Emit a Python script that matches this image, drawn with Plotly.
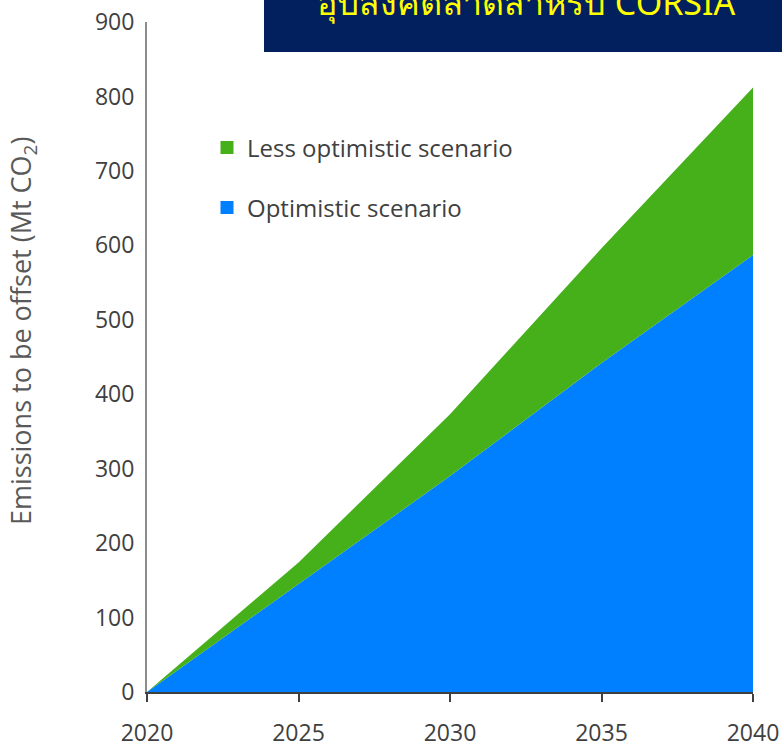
import plotly.graph_objects as go

years = [2020, 2025, 2030, 2035, 2040]
optimistic = [0, 145, 290, 442, 587]
less_optimistic = [0, 174, 373, 596, 812]

series_names = ["Less optimistic scenario", "Optimistic scenario"]
y_ticks = [0, 100, 200, 300, 400, 500, 600, 700, 800, 900]
x_ticks = [2020, 2025, 2030, 2035, 2040]
title_text = "อุปสงค์ตลาดสำหรับ CORSIA"
y_title = "Emissions to be offset (Mt CO<sub>2</sub>)"

GREEN = "#46B01B"
BLUE = "#0080FF"
FONT = "Open Sans, Lato, sans-serif"
W, H = 782, 747
# plot area in page pixels: x 147..753, y 22..692
PX0, PX1, PY0, PY1 = 147, 753, 22, 692
L, R, T, B = PX0, W - PX1, PY0, H - PY1
pw, ph = PX1 - PX0, PY1 - PY0


def px_x(x):
    return (x - PX0) / pw


def px_y(y):
    return (PY1 - y) / ph


fig = go.Figure()
fig.add_trace(go.Scatter(x=years, y=optimistic, mode="none", fill="tozeroy",
                         fillcolor=BLUE, showlegend=False, hoverinfo="skip"))
fig.add_trace(go.Scatter(x=years, y=less_optimistic, mode="none", fill="tonexty",
                         fillcolor=GREEN, showlegend=False, hoverinfo="skip"))
# legend entries
fig.add_trace(go.Scatter(x=[None], y=[None], mode="markers", name=series_names[0],
                         marker=dict(symbol="square", size=13, color=GREEN), legend="legend"))
fig.add_trace(go.Scatter(x=[None], y=[None], mode="markers", name=series_names[1],
                         marker=dict(symbol="square", size=13, color=BLUE), legend="legend2"))

leg_common = dict(font=dict(family=FONT, size=24, color="#404040"), bgcolor="rgba(0,0,0,0)",
                  xanchor="left", yanchor="middle", itemwidth=30)

fig.update_layout(
    template="none",
    width=W, height=H,
    margin=dict(l=L, r=R, t=T, b=B, autoexpand=False),
    plot_bgcolor="white", paper_bgcolor="white",
    font=dict(family=FONT, size=23, color="#404040"),
    legend=dict(x=px_x(207), y=px_y(148), **leg_common),
    legend2=dict(x=px_x(207), y=px_y(208), **leg_common),
    xaxis=dict(range=[2020, 2040], tickvals=x_ticks, ticks="outside", ticklen=8,
               tickcolor="#404040", tickwidth=2, showline=True, linecolor="#404040", linewidth=2,
               showgrid=False, zeroline=False, tickfont=dict(size=23), ticklabelstandoff=11,
               automargin=False, ticklabeloverflow="allow"),
    yaxis=dict(range=[0, 900], tickvals=y_ticks, ticks="", showline=True,
               linecolor="#8C8C8C", linewidth=2, showgrid=False, zeroline=False,
               ticklabelstandoff=6, tickfont=dict(size=23), automargin=False,
               ticklabeloverflow="allow"),
    shapes=[dict(type="rect", xref="paper", yref="paper",
                 x0=px_x(264), x1=px_x(800), y0=px_y(52), y1=px_y(-20),
                 fillcolor="#03205E", line=dict(width=0), layer="above")],
    annotations=[
        dict(text=title_text, xref="paper", yref="paper", x=px_x(526), y=px_y(2),
             xanchor="center", yanchor="middle", showarrow=False,
             font=dict(size=34, color="#FFFF00", family="Noto Sans, sans-serif")),
        dict(text=y_title, xref="paper", yref="paper", x=px_x(22), y=px_y(331),
             xanchor="center", yanchor="middle", textangle=-90, showarrow=False,
             font=dict(size=27, color="#595959", family=FONT)),
    ],
)

fig.write_html("out.html", config={"displayModeBar": False},
               post_script="document.body.style.margin='0';")
